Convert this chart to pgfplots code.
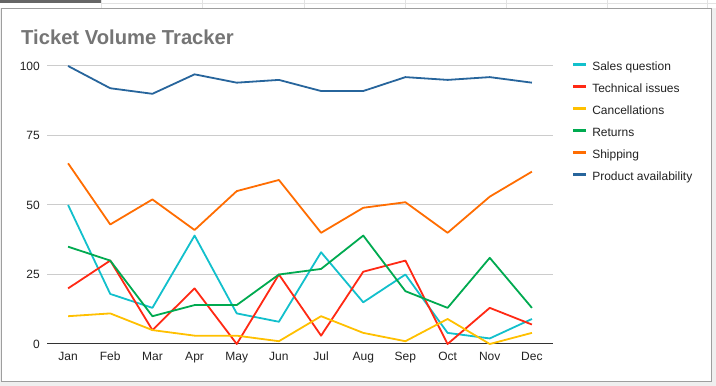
\documentclass[border=0pt]{standalone}
\usepackage{pgfplots}
\pgfplotsset{compat=1.18}
\usepackage{fontspec}
\setmainfont{Liberation Sans}
\definecolor{bgout}{HTML}{EFEFEF}
\definecolor{cardborder}{HTML}{9E9E9E}
\definecolor{cellline}{HTML}{E2E2E2}
\definecolor{tabdark}{HTML}{666666}
\definecolor{titlegray}{HTML}{757575}
\definecolor{gridgray}{HTML}{CCCCCC}
\definecolor{axisdark}{HTML}{333333}
\definecolor{labeldark}{HTML}{222222}
\definecolor{csales}{RGB}{18,192,204}
\definecolor{ctech}{RGB}{255,41,20}
\definecolor{ccancel}{RGB}{255,192,0}
\definecolor{creturns}{RGB}{0,170,80}
\definecolor{cship}{RGB}{255,109,1}
\definecolor{cprod}{RGB}{39,101,156}
\begin{document}
\begin{tikzpicture}
% page background and spreadsheet strip
\fill[bgout] (0pt,0pt) rectangle (716pt,386pt);
\fill[white] (0pt,378pt) rectangle (716pt,386pt);
\fill[tabdark] (0pt,382.7pt) rectangle (101pt,386pt);
\draw[cellline, line width=0.8pt] (101pt,382.5pt) -- (716pt,382.5pt);
\foreach \xx in {101,202,304,405,506,607,707} {\draw[cellline, line width=0.8pt] (\xx pt,378pt) -- (\xx pt,386pt);}
% chart card
\filldraw[fill=white, draw=cardborder, line width=1pt] (1.5pt,4.3pt) rectangle (711.8pt,377.5pt);
\node[anchor=base west, inner sep=0pt, text=titlegray, font=\bfseries\fontsize{20.2}{23}\selectfont] at (21pt,341pt) {Ticket Volume Tracker};
\begin{axis}[
  at={(47pt,42pt)}, anchor=south west,
  scale only axis, width=506pt, height=278pt,
  xmin=-0.5, xmax=11.5, ymin=0, ymax=100,
  clip=false,
  xtick={0,...,11},
  xticklabels={Jan,Feb,Mar,Apr,May,Jun,Jul,Aug,Sep,Oct,Nov,Dec},
  ytick={0,25,50,75,100},
  axis line style={draw=none},
  tick style={draw=none},
  major tick length=0pt,
  ymajorgrids,
  grid style={draw=gridgray, line width=1pt},
  extra y ticks={0},
  extra y tick labels={},
  extra y tick style={grid style={draw=axisdark, line width=1pt}},
  /pgf/number format/assume math mode=true,
  ticklabel style={font=\fontsize{12}{14}\selectfont, text=labeldark},
  xticklabel style={anchor=north, inner sep=0pt, text height=9pt, text depth=3pt, yshift=-7pt},
  yticklabel style={anchor=east, inner sep=0pt, xshift=-7pt},
  legend cell align=left,
  legend style={at={(1.0375,1.015)}, anchor=north west, draw=none, fill=none,
    inner sep=0pt, outer sep=0pt, row sep=10pt, column sep=4.5pt,
    font=\fontsize{12}{14}\selectfont,
    nodes={inner sep=0pt, text height=9pt, text depth=3pt, text=labeldark}},
  legend image code/.code={\draw[line width=2.8pt] (0pt,3.2pt) -- (13pt,3.2pt);},
  every axis plot/.append style={line width=1.8pt, line join=round, mark=none},
]
\addplot[csales] coordinates {(0,50) (1,18) (2,13) (3,39) (4,11) (5,8) (6,33) (7,15) (8,25) (9,4) (10,2) (11,9)};
\addlegendentry{Sales question}
\addplot[ctech] coordinates {(0,20) (1,30) (2,5) (3,20) (4,0) (5,25) (6,3) (7,26) (8,30) (9,0) (10,13) (11,7)};
\addlegendentry{Technical issues}
\addplot[ccancel] coordinates {(0,10) (1,11) (2,5) (3,3) (4,3) (5,1) (6,10) (7,4) (8,1) (9,9) (10,0) (11,4)};
\addlegendentry{Cancellations}
\addplot[creturns] coordinates {(0,35) (1,30) (2,10) (3,14) (4,14) (5,25) (6,27) (7,39) (8,19) (9,13) (10,31) (11,13)};
\addlegendentry{Returns}
\addplot[cship] coordinates {(0,65) (1,43) (2,52) (3,41) (4,55) (5,59) (6,40) (7,49) (8,51) (9,40) (10,53) (11,62)};
\addlegendentry{Shipping}
\addplot[cprod] coordinates {(0,100) (1,92) (2,90) (3,97) (4,94) (5,95) (6,91) (7,91) (8,96) (9,95) (10,96) (11,94)};
\addlegendentry{Product availability}
\end{axis}
\pgfresetboundingbox
\path (0pt,0pt) rectangle (716pt,386pt);
\end{tikzpicture}
\end{document}
